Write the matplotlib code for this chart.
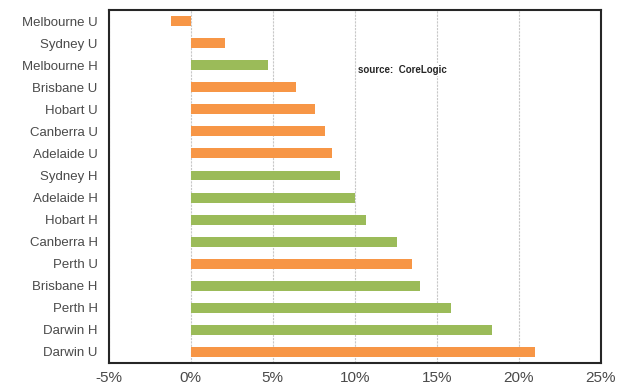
import numpy as np
import matplotlib.pyplot as plt

plt.rcParams['font.family'] = ['Liberation Sans', 'DejaVu Sans']

# data, top to bottom
labels = ['Melbourne U', 'Sydney U', 'Melbourne H', 'Brisbane U', 'Hobart U',
          'Canberra U', 'Adelaide U', 'Sydney H', 'Adelaide H', 'Hobart H',
          'Canberra H', 'Perth U', 'Brisbane H', 'Perth H', 'Darwin H', 'Darwin U']
growth = [-1.2, 2.1, 4.7, 6.4, 7.6, 8.2, 8.6, 9.1, 10.0, 10.7,
          12.6, 13.5, 14.0, 15.9, 18.4, 21.0]

orange = '#F79646'
green = '#9BBB59'
colors = [green if lab.endswith('H') else orange for lab in labels]

fig = plt.figure(figsize=(6.18, 3.89), dpi=100)
ax = fig.add_axes([0.176, 0.067, 0.796, 0.907])

y = np.arange(len(labels))
ax.barh(y, growth, height=0.45, color=colors, zorder=3)
ax.set_yticks(y)
ax.set_yticklabels(labels)
ax.set_ylim(len(labels) - 0.5, -0.5)

ax.set_xlim(-5, 25)
ax.set_xticks(np.arange(-5, 26, 5))
ax.set_xticklabels([f'{v}%' for v in range(-5, 26, 5)])
ax.grid(axis='x', color='#c8c8c8', linestyle=(0, (2, 1)), linewidth=0.8, zorder=0)

for s in ax.spines.values():
    s.set_linewidth(1.5)
    s.set_color('#262626')

ax.tick_params(axis='y', length=0, pad=8, labelsize=9.5, labelcolor='#4a4a4a')
ax.tick_params(axis='x', length=0, pad=6, labelsize=11, labelcolor='#4a4a4a')

ax.text(10.2, 2.2, 'source:  CoreLogic', fontsize=7, fontweight='bold',
        color='#262626', va='center', ha='left', zorder=4,
        bbox=dict(facecolor='white', edgecolor='none', pad=1))

fig.savefig('out.png', dpi=100)
